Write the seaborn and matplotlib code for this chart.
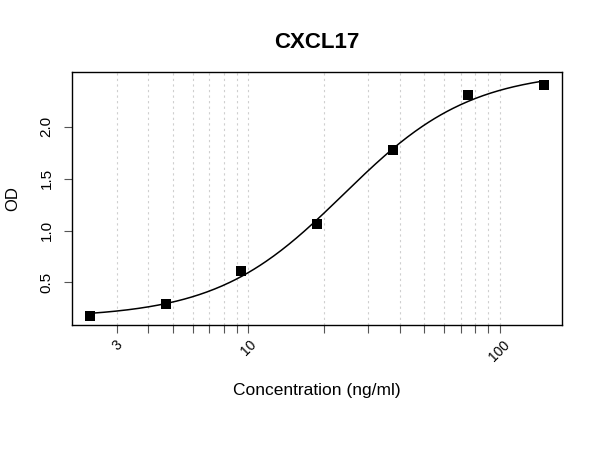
import numpy as np
import pandas as pd
import matplotlib
matplotlib.use("Agg")
import matplotlib.pyplot as plt
import seaborn as sns

# Standard curve data
conc = [2.34, 4.69, 9.375, 18.75, 37.5, 75, 150]
od = [0.182, 0.295, 0.614, 1.062, 1.773, 2.306, 2.403]

grid_ticks = [3, 4, 5, 6, 7, 8, 9, 10, 20, 30, 40, 50, 60, 70, 80, 90, 100]
labelled = [3, 10, 100]
y_ticks = [0.5, 1.0, 1.5, 2.0]

data = pd.DataFrame({"conc": conc, "od": od})


# 4PL fit: grid over c and b, a and d solved by least squares
def fit_4pl(x, y):
    x = np.asarray(x, float)
    y = np.asarray(y, float)
    best = None
    for logc in np.linspace(np.log10(x.min()), np.log10(x.max()), 300):
        c = 10 ** logc
        for b in np.linspace(0.3, 4, 200):
            g = 1 / (1 + (x / c) ** b)
            A = np.column_stack([g, 1 - g])
            coef, *_ = np.linalg.lstsq(A, y, rcond=None)
            err = np.sum((A @ coef - y) ** 2)
            if best is None or err < best[0]:
                best = (err, coef[0], coef[1], c, b)
    return best[1:]


a, d, c, b = fit_4pl(conc, od)
xs = np.logspace(np.log10(min(conc)), np.log10(max(conc)), 300)
curve = pd.DataFrame({"conc": xs, "od": d + (a - d) / (1 + (xs / c) ** b)})

sns.set_style("white", rc={"text.color": "black", "axes.labelcolor": "black",
                           "xtick.color": "black", "ytick.color": "black"})
plt.rcParams["font.family"] = ["Liberation Sans", "DejaVu Sans"]

fig = plt.figure(figsize=(6, 4.5), dpi=100)
ax = fig.add_axes([0.1195, 0.278, 0.8175, 0.563])

sns.lineplot(data=curve, x="conc", y="od", color="black", linewidth=1.1, ax=ax)
sns.scatterplot(data=data, x="conc", y="od", marker="s", s=62, color="black",
                linewidth=0, zorder=5, ax=ax)

ax.set_xscale("log")
ax.margins(x=0.04, y=0.04)

for v in grid_ticks:
    ax.axvline(v, color="#cfcfcf", linestyle=(0, (2, 3)), linewidth=0.8, zorder=0)

ax.set_xticks(grid_ticks)
ax.set_xticklabels([str(v) if v in labelled else "" for v in grid_ticks],
                   rotation=45, fontsize=10)
ax.xaxis.set_minor_locator(matplotlib.ticker.NullLocator())
ax.set_yticks(y_ticks)
ax.set_yticklabels([f"{v:.1f}" for v in y_ticks], rotation=90, va="center", fontsize=11)
ax.tick_params(axis="both", length=6, width=0.8, color="#555555", direction="out",
               bottom=True, left=True)
ax.tick_params(axis="y", pad=7)
ax.tick_params(axis="x", pad=3)

for s in ax.spines.values():
    s.set_color("black")
    s.set_linewidth(1.0)

ax.set_xlabel("Concentration (ng/ml)", fontsize=12.5, labelpad=14)
ax.set_ylabel("OD", fontsize=12, labelpad=14)
ax.set_title("CXCL17", fontsize=16, fontweight="bold", pad=17)

fig.savefig("out.png", dpi=100)
